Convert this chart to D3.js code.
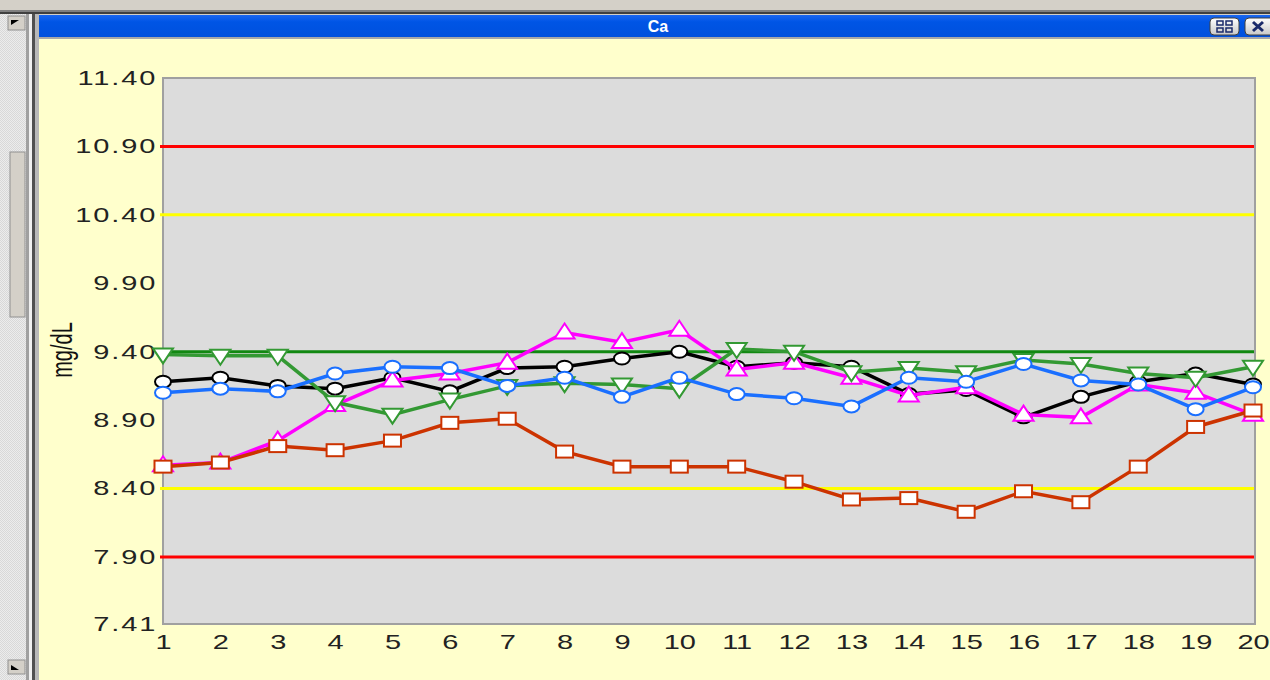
<!DOCTYPE html>
<html><head><meta charset="utf-8">
<script src="https://cdn.jsdelivr.net/npm/d3@7"></script>
<style>html,body{margin:0;padding:0;background:#d4d0c8;overflow:hidden}</style>
</head><body>
<svg id="c" width="1270" height="680"></svg>
<script>
const xCats = d3.range(1, 21);
const yTicks = [7.41, 7.90, 8.40, 8.90, 9.40, 9.90, 10.40, 10.90, 11.40];
const refLines = [
  {v: 10.90, c: "#ff0000"}, {v: 7.90, c: "#ff0000"},
  {v: 10.40, c: "#ffff00"}, {v: 8.40, c: "#ffff00"},
  {v: 9.40, c: "#118811"}
];
const blackSeries = [9.18,9.21,9.15,9.13,9.21,9.11,9.28,9.29,9.35,9.40,9.29,9.32,9.29,9.09,9.12,8.92,9.07,9.18,9.24,9.16];
const pinkSeries  = [8.57,8.59,8.75,9.01,9.19,9.24,9.32,9.54,9.47,9.56,9.27,9.32,9.21,9.08,9.14,8.94,8.92,9.16,9.10,8.94];
const greenSeries = [9.38,9.37,9.37,9.03,8.94,9.05,9.15,9.17,9.16,9.13,9.42,9.40,9.25,9.28,9.25,9.34,9.31,9.24,9.21,9.29];
const blueSeries  = [9.10,9.13,9.11,9.24,9.29,9.28,9.15,9.21,9.07,9.21,9.09,9.06,9.00,9.21,9.18,9.31,9.19,9.16,8.98,9.14];
const redSeries   = [8.56,8.59,8.71,8.68,8.75,8.88,8.91,8.67,8.56,8.56,8.56,8.45,8.32,8.33,8.23,8.38,8.30,8.56,8.85,8.97];

const series = [
  {vals: blackSeries, color: "#000000", shape: "circle"},
  {vals: pinkSeries,  color: "#ff00ff", shape: "up"},
  {vals: greenSeries, color: "#339933", shape: "down"},
  {vals: blueSeries,  color: "#1a6fff", shape: "circle"},
  {vals: redSeries,   color: "#cc3300", shape: "square"}
];

const svg = d3.select("#c");
const SX = 1.45; // horizontal stretch of text

// ---- window chrome ----
svg.append("rect").attr("x",0).attr("y",0).attr("width",1270).attr("height",680).attr("fill","#d4d0c8");
svg.append("rect").attr("x",0).attr("y",10).attr("width",1270).attr("height",2).attr("fill","#808080");
svg.append("rect").attr("x",0).attr("y",12).attr("width",1270).attr("height",2).attr("fill","#404040");
const defs = svg.append("defs");
const pat = defs.append("pattern").attr("id","hatch").attr("width",2).attr("height",2).attr("patternUnits","userSpaceOnUse");
pat.append("rect").attr("width",2).attr("height",2).attr("fill","#ececec");
pat.append("rect").attr("width",1).attr("height",1).attr("fill","#d8d8d8");
pat.append("rect").attr("x",1).attr("y",1).attr("width",1).attr("height",1).attr("fill","#d8d8d8");
// left scroll area
svg.append("rect").attr("x",0).attr("y",14).attr("width",26).attr("height",666).attr("fill","url(#hatch)");
svg.append("rect").attr("x",10).attr("y",152).attr("width",15).attr("height",165).attr("fill","#d4d0c8").attr("stroke","#909090");
svg.append("rect").attr("x",8).attr("y",16).attr("width",17).attr("height",14).attr("fill","#d4d0c8").attr("stroke","#909090");
svg.append("path").attr("d","M11,20 L19,20 L11,25 Z").attr("fill","#000");
svg.append("rect").attr("x",8).attr("y",660).attr("width",17).attr("height",14).attr("fill","#d4d0c8").attr("stroke","#909090");
svg.append("path").attr("d","M11,670 L19,670 L11,665 Z").attr("fill","#000");
// frame
svg.append("rect").attr("x",26).attr("y",14).attr("width",3).attr("height",666).attr("fill","#a0a0a0");
svg.append("rect").attr("x",29).attr("y",14).attr("width",3).attr("height",666).attr("fill","#f0f0f0");
svg.append("rect").attr("x",32).attr("y",14).attr("width",3).attr("height",666).attr("fill","#505050");
svg.append("rect").attr("x",35).attr("y",14).attr("width",4).attr("height",666).attr("fill","#b8b8b8");
// title bar
const g1 = defs.append("linearGradient").attr("id","tb").attr("x1",0).attr("y1",0).attr("x2",0).attr("y2",1);
g1.append("stop").attr("offset","0").attr("stop-color","#1a66f0");
g1.append("stop").attr("offset","0.3").attr("stop-color","#0055e5");
g1.append("stop").attr("offset","1").attr("stop-color","#0050dd");
svg.append("rect").attr("x",39).attr("y",15).attr("width",1231).attr("height",23).attr("fill","url(#tb)");
svg.append("rect").attr("x",39).attr("y",37).attr("width",1231).attr("height",2).attr("fill","#a8a8a8");
svg.append("text").attr("x",658).attr("y",32).attr("text-anchor","middle")
  .attr("font-family","Liberation Sans, Arial, sans-serif").attr("font-weight","bold").attr("font-size",16)
  .attr("fill","#fff").text("Ca");
// buttons
const bg = defs.append("linearGradient").attr("id","btn").attr("x1",0).attr("y1",0).attr("x2",0).attr("y2",1);
bg.append("stop").attr("offset","0").attr("stop-color","#ffffff");
bg.append("stop").attr("offset","1").attr("stop-color","#c8c8c8");
svg.append("rect").attr("x",1210).attr("y",18).attr("width",29).attr("height",17).attr("rx",4).attr("fill","url(#btn)").attr("stroke","#404040");
[[1217,21],[1226,21],[1217,28],[1226,28]].forEach(p=>{
  svg.append("rect").attr("x",p[0]).attr("y",p[1]).attr("width",6).attr("height",4).attr("fill","none").attr("stroke","#1a2a6a").attr("stroke-width",1.5);
});
svg.append("rect").attr("x",1245).attr("y",18).attr("width",32).attr("height",17).attr("rx",4).attr("fill","url(#btn)").attr("stroke","#404040");
svg.append("path").attr("d","M1253,22 L1263,31 M1263,22 L1253,31").attr("stroke","#1a2a6a").attr("stroke-width",3);
// yellow panel
svg.append("rect").attr("x",39).attr("y",39).attr("width",1231).attr("height",641).attr("fill","#ffffcc");

// ---- chart ----
const L = 163, R = 1255, T = 78, B = 624;
const x = d3.scalePoint().domain(xCats).range([163, 1253]);
const y = d3.scaleLinear().domain([7.41, 11.40]).range([B, T]);

svg.append("rect").attr("x",L).attr("y",T).attr("width",R-L).attr("height",B-T)
  .attr("fill","#dcdcdc").attr("stroke","#a0a0a0").attr("stroke-width",2);

// reference lines
svg.append("g").selectAll("line").data(refLines).join("line")
  .attr("x1",160).attr("x2",R-1).attr("y1",d=>y(d.v)).attr("y2",d=>y(d.v))
  .attr("stroke",d=>d.c).attr("stroke-width",3);

// axes
const fontFam = "Liberation Sans, Arial, sans-serif";
const yAxis = svg.append("g").attr("transform",`translate(${L},0)`)
  .call(d3.axisLeft(y).tickValues(yTicks).tickFormat(d3.format(".2f")).tickSize(0).tickPadding(4));
yAxis.select(".domain").remove();
yAxis.selectAll("text").attr("font-family",fontFam).attr("font-size",20).attr("fill","#222")
  .attr("letter-spacing","1.3px").attr("transform",`scale(${SX},1)`);

const xAxis = svg.append("g").attr("transform",`translate(0,${B})`)
  .call(d3.axisBottom(x).tickSize(0).tickPadding(11));
xAxis.select(".domain").remove();
xAxis.selectAll("text").attr("font-family",fontFam).attr("font-size",20).attr("fill","#222")
  .attr("transform",`scale(${SX},1)`);

svg.append("text").attr("transform",`translate(72,350) rotate(-90) scale(1,${SX})`)
  .attr("text-anchor","middle").attr("font-family",fontFam).attr("font-size",20).attr("fill","#111")
  .text("mg/dL");

// series
const line = d3.line().x((d,i)=>x(xCats[i])).y(d=>y(d));
series.forEach(s=>{
  const g = svg.append("g");
  g.append("path").attr("d",line(s.vals)).attr("fill","none").attr("stroke",s.color).attr("stroke-width",3.5);
  const m = g.selectAll(".m").data(s.vals).join(s.shape==="circle"?"ellipse":(s.shape==="square"?"rect":"path"));
  if (s.shape==="circle") {
    m.attr("cx",(d,i)=>x(xCats[i])).attr("cy",d=>y(d)).attr("rx",8).attr("ry",6);
  } else if (s.shape==="square") {
    m.attr("x",(d,i)=>x(xCats[i])-8.5).attr("y",d=>y(d)-6).attr("width",17).attr("height",12);
  } else if (s.shape==="up") {
    m.attr("d",(d,i)=>{const cx=x(xCats[i]), cy=y(d); return `M${cx},${cy-9} L${cx+10},${cy+6} L${cx-10},${cy+6} Z`;});
  } else {
    m.attr("d",(d,i)=>{const cx=x(xCats[i]), cy=y(d); return `M${cx-10},${cy-6} L${cx+10},${cy-6} L${cx},${cy+9} Z`;});
  }
  m.attr("fill","#fff").attr("stroke",s.color).attr("stroke-width",2);
});
</script>
</body></html>
